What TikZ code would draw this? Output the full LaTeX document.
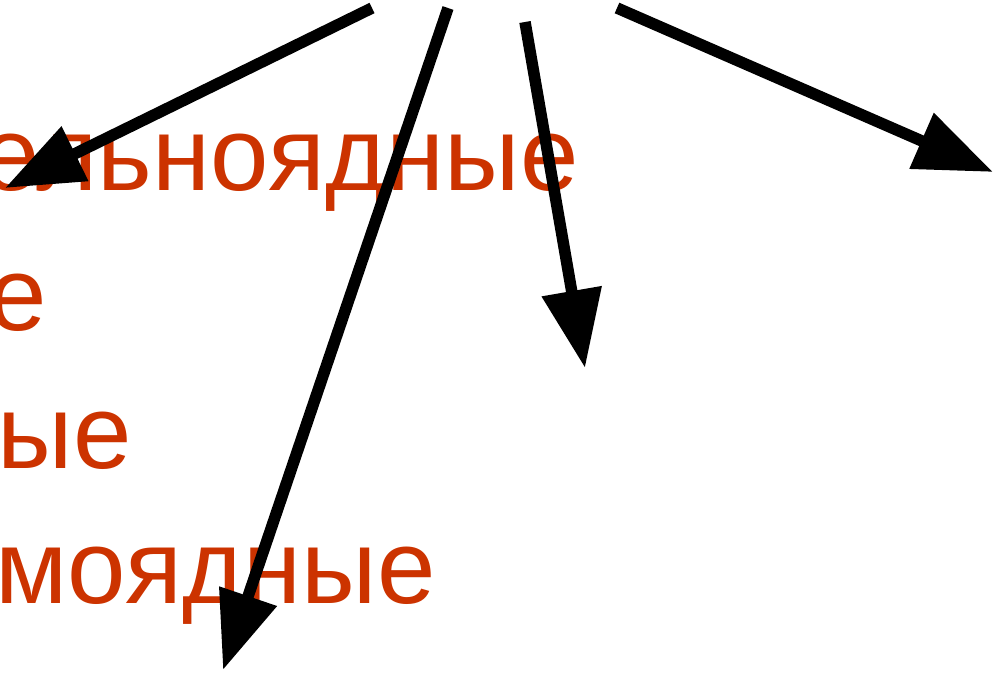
\documentclass[tikz,border=0pt]{standalone}
\usepackage{fontspec}
\setmainfont{Liberation Sans}
\usetikzlibrary{arrows.meta}
\definecolor{txtred}{HTML}{CC3300}
\begin{document}
\begin{tikzpicture}[x=1pt,y=-1pt,
  lbl/.style={anchor=base east,inner sep=0pt,text=txtred,font=\fontsize{105}{105}\selectfont},
  arr/.style={line width=11.5pt,-{Triangle[length=78pt,width=58pt]}}]
\useasboundingbox (0,0) rectangle (998,677);
\clip (0,0) rectangle (998,677);
\node[lbl] (l1) at (579,190) {ельноядные};
\node[lbl] (l2) at (47,330) {е};
\node[lbl] (l3) at (132,468) {ые};
\node[lbl] (l4) at (436,603) {моядные};
\coordinate (s1) at (372,8);
\coordinate (t1) at (5,188);
\coordinate (s2) at (448,8);
\coordinate (t2) at (223,670);
\coordinate (s3) at (525,22);
\coordinate (t3) at (585,368);
\coordinate (s4) at (617,8);
\coordinate (t4) at (993,172);
\draw[arr] (s1) -- (t1);
\draw[arr] (s2) -- (t2);
\draw[arr] (s3) -- (t3);
\draw[arr] (s4) -- (t4);
\end{tikzpicture}
\end{document}
